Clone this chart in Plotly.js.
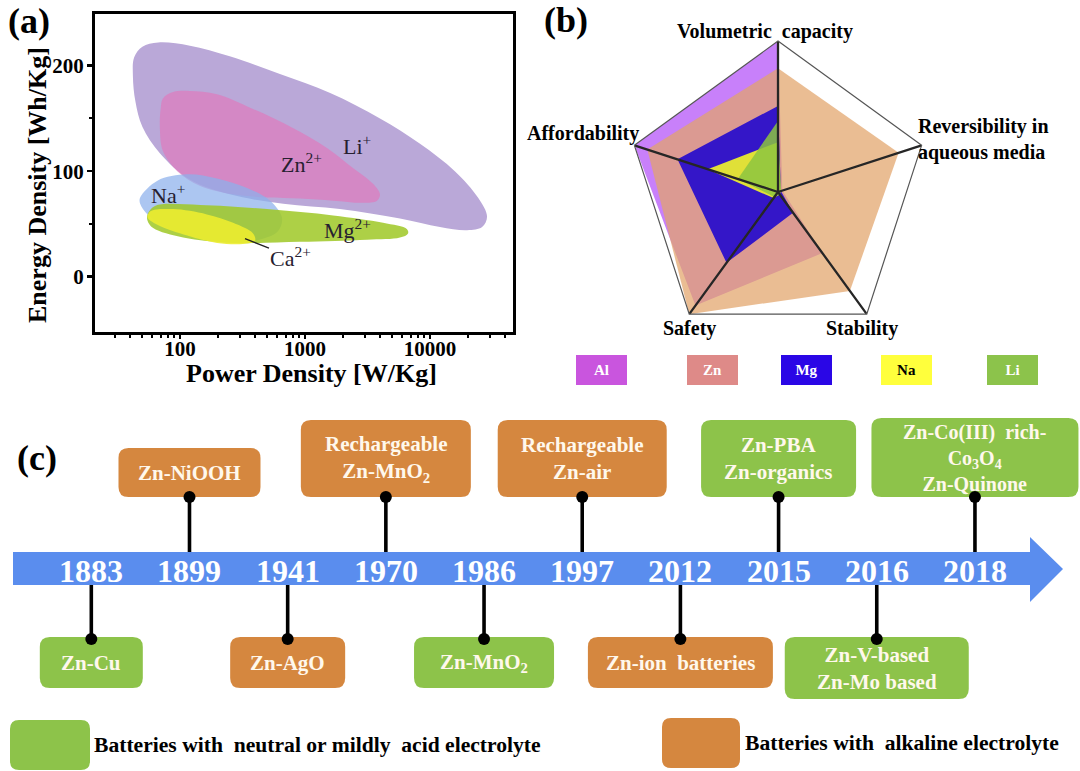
<!DOCTYPE html>
<html>
<head>
<meta charset="utf-8">
<script src="https://cdn.plot.ly/plotly-3.0.1.min.js"></script>
<style>html,body{margin:0;padding:0;background:#fff}#chart{width:1080px;height:771px}</style>
</head>
<body>
<div id="chart"></div>
<script>
// ---------------- DATA ----------------
// (a) Ragone-type regions: power density [W/Kg] vs energy density [Wh/Kg] (outline points)
const liPower  = [43, 50, 67, 120, 250, 630, 1590, 3980, 8320, 15800, 24200, 28600, 26100, 19800, 12000, 5750, 1900, 670, 250, 120, 69, 50, 44, 42];
const liEnergy = [208, 218, 222, 219, 209, 192, 174, 150, 126, 100, 75, 57, 47, 44, 47, 55, 64, 69, 78, 92, 117, 142, 166, 190];
const znPower  = [73, 88, 120, 198, 384, 800, 1500, 2420, 3500, 3980, 3770, 2910, 1680, 910, 500, 266, 145, 95, 73, 69, 70];
const znEnergy = [169, 175, 176, 173, 159, 141, 122, 103, 88, 78, 72, 70, 72, 74, 75, 78, 86, 100, 119, 141, 159];
const naPower  = [48, 66, 114, 198, 344, 525, 655, 608, 461, 266, 145, 79, 55, 48];
const naEnergy = [75, 91, 97, 93, 84, 72, 56, 43, 36, 32, 36, 46, 59, 69];
const mgPower  = [55, 63, 145, 497, 1680, 4210, 6550, 6670, 5750, 3130, 912, 266, 106, 61, 55];
const mgEnergy = [59, 67, 68, 64, 58, 51, 45, 41, 37, 35, 33, 32, 37, 46, 53];
const caPower  = [58, 88, 164, 266, 384, 398, 319, 198, 114, 69, 55];
const caEnergy = [62, 64, 59, 51, 41, 34, 31, 32, 39, 48, 56];
const ionNames = ['Li<sup>+</sup>', 'Zn<sup>2+</sup>', 'Na<sup>+</sup>', 'Mg<sup>2+</sup>', 'Ca<sup>2+</sup>'];
const powerTicks = [100, 1000, 10000];
const energyTicks = [0, 100, 200];

// (b) radar scores (0-10)
const radarAxes = ['Volumetric capacity', 'Reversibility in aqueous media', 'Stability', 'Safety', 'Affordability'];
const radarSeries = ['Al', 'Zn', 'Mg', 'Na', 'Li'];
const alScores = [10, 0.3, 5.0, 9.3, 10];
const znScores = [8.2, 8.4, 8.1, 10, 9.1];
const mgScores = [5.7, 0.2, 1.7, 5.8, 7.0];
const naScores = [3.3, 0.2, 0.2, 0.5, 4.9];
const liScores = [4.7, 0.2, 0.2, 0.4, 2.8];
const radarMax = 10;

// (c) timeline
const years = ['1883', '1899', '1941', '1970', '1986', '1997', '2012', '2015', '2016', '2018'];
const milestones = ['Zn-Cu', 'Zn-NiOOH', 'Zn-AgO', 'Rechargeable<br>Zn-MnO<sub>2</sub>', 'Zn-MnO<sub>2</sub>',
  'Rechargeable<br>Zn-air', 'Zn-ion&nbsp; batteries', 'Zn-PBA<br>Zn-organics', 'Zn-V-based<br>Zn-Mo based',
  'Zn-Co(III)&nbsp; rich-<br>Co<sub>3</sub>O<sub>4</sub><br>Zn-Quinone'];
const placement = ['below', 'above', 'below', 'above', 'below', 'above', 'below', 'above', 'below', 'above'];
const electrolyte = ['neutral', 'alkaline', 'alkaline', 'alkaline', 'neutral', 'alkaline', 'alkaline', 'neutral', 'neutral', 'neutral'];
const electrolyteNames = {
  neutral: 'Batteries with&nbsp; neutral or mildly&nbsp; acid electrolyte',
  alkaline: 'Batteries with&nbsp; alkaline electrolyte'
};

// ---------------- STYLE / LAYOUT ----------------
const W = 1080, H = 771;
const PX = p => p / W, PY = p => 1 - p / H;
const SERIF = "'Liberation Serif', 'Times New Roman', serif";
const bold = (size, color) => ({family: SERIF, size: size, color: color || '#000', weight: 700});

const blobColors = ['rgb(186,168,216)', 'rgba(228,116,186,0.62)', 'rgba(140,176,236,0.72)', 'rgba(160,200,40,0.86)', 'rgba(236,236,48,0.9)'];
const labelAnchor = [[2606, 125], [946, 108], [80, 78], [2168, 45], [331, 36]];
const radarColors = ['rgb(200,128,250)', 'rgba(226,164,106,0.72)', 'rgb(52,22,200)', 'rgb(224,224,56)', 'rgba(140,196,64,0.85)'];
const radarLegendColors = ['#C955DE', '#DE8A88', '#2A06E6', '#FFFF3C', '#8CC34B'];
const radarLegendText = ['#fff', '#fff', '#fff', '#000', '#fff'];
const radarLegendX = [601, 712, 806, 906, 1012];
const elecColors = {neutral: '#8DC34A', alkaline: '#D5873F'};
const boxW = [103, 142, 115, 170, 140, 169, 185, 155, 184, 207];
const boxH = [51, 49, 51, 77, 51, 77, 51, 77, 62, 79];
const stemLen = 71;
// x3 category axis range: index i -> 91 + 98.2*i px
const X3R = [-0.93, 10.07];
const XU = (X3R[1] - X3R[0]) / W;   // x3 units per px
const Y3R = [-152, 158];            // 1 unit = 1 px, 0 at arrow centre

function closeLoop(a) { return a.concat([a[0]]); }

const data = [];
// ---- (a) regions
[[liPower, liEnergy], [znPower, znEnergy], [naPower, naEnergy], [mgPower, mgEnergy], [caPower, caEnergy]].forEach((p, i) => {
  data.push({type: 'scatter', x: closeLoop(p[0]), y: closeLoop(p[1]), mode: 'lines', fill: 'toself',
    fillcolor: blobColors[i], line: {width: 0, shape: 'spline', smoothing: 1, color: blobColors[i]},
    xaxis: 'x', yaxis: 'y', hoverinfo: 'skip', name: ionNames[i]});
});

// ---- (b) radar
[alScores, znScores, mgScores, naScores, liScores].forEach((s, i) => {
  data.push({type: 'scatterpolar', subplot: 'polar', r: closeLoop(s), theta: closeLoop(radarAxes),
    mode: 'lines', fill: 'toself', fillcolor: radarColors[i], line: {width: 0, color: radarColors[i]},
    name: radarSeries[i], hoverinfo: 'skip'});
});
const spokeR = [], spokeT = [];
radarAxes.forEach(a => { spokeR.push(radarMax, 0); spokeT.push(a, a); });
data.push({type: 'scatterpolar', subplot: 'polar', r: spokeR, theta: spokeT, mode: 'lines',
  line: {color: '#262626', width: 2.3}, hoverinfo: 'skip'});

// ---- (c) timeline stems + dots
const stemX = [], stemY = [];
years.forEach((y, i) => {
  const s = placement[i] === 'above' ? 1 : -1;
  stemX.push(y, y, null); stemY.push(0, s * stemLen, null);
});
data.push({type: 'scatter', x: stemX, y: stemY, mode: 'lines', line: {color: '#000', width: 3.6},
  xaxis: 'x3', yaxis: 'y3', hoverinfo: 'skip'});
data.push({type: 'scatter', x: years, y: placement.map(p => (p === 'above' ? 1 : -1) * stemLen), mode: 'markers',
  marker: {color: '#000', size: 12}, xaxis: 'x3', yaxis: 'y3', hoverinfo: 'skip'});

// ---------------- SHAPES ----------------
const shapes = [];
function rr(x0, x1, y0, y1, rx, ry) {
  return `M${x0 + rx},${y0} L${x1 - rx},${y0} Q${x1},${y0} ${x1},${y0 + ry} L${x1},${y1 - ry} Q${x1},${y1} ${x1 - rx},${y1} ` +
         `L${x0 + rx},${y1} Q${x0},${y1} ${x0},${y1 - ry} L${x0},${y0 + ry} Q${x0},${y0} ${x0 + rx},${y0} Z`;
}
years.forEach((y, i) => {
  const hw = boxW[i] / 2 * XU;
  let y0, y1;
  if (placement[i] === 'above') { y0 = stemLen; y1 = stemLen + boxH[i]; }
  else { y1 = -stemLen + 2; y0 = y1 - boxH[i]; }
  shapes.push({type: 'path', xref: 'x3', yref: 'y3', layer: 'below', path: rr(i - hw, i + hw, y0, y1, 10 * XU, 10),
    fillcolor: elecColors[electrolyte[i]], line: {width: 0}});
});
// timeline arrow
const ax = [13, 1030, 1063], ay = [552, 585, 537, 602, 569];
shapes.push({type: 'path', xref: 'paper', yref: 'paper', layer: 'above', fillcolor: '#5A8DEE', line: {width: 0},
  path: `M${PX(ax[0])},${PY(ay[0])} L${PX(ax[1])},${PY(ay[0])} L${PX(ax[1])},${PY(ay[2])} L${PX(ax[2])},${PY(ay[4])} ` +
        `L${PX(ax[1])},${PY(ay[3])} L${PX(ax[1])},${PY(ay[1])} L${PX(ax[0])},${PY(ay[1])} Z`});
// bottom legend squares
function paperRR(x0, x1, y0, y1, r) {
  return rr(PX(x0), PX(x1), PY(y1), PY(y0), r / W, r / H);
}
shapes.push({type: 'path', xref: 'paper', yref: 'paper', path: paperRR(10, 90, 720, 770, 9), fillcolor: elecColors.neutral, line: {width: 0}});
shapes.push({type: 'path', xref: 'paper', yref: 'paper', path: paperRR(662, 740, 718, 768, 9), fillcolor: elecColors.alkaline, line: {width: 0}});

// ---------------- ANNOTATIONS ----------------
const ann = [];
function paperText(text, x, y, font, extra) {
  ann.push(Object.assign({text: text, xref: 'paper', yref: 'paper', x: PX(x), y: PY(y), xanchor: 'center', yanchor: 'middle',
    showarrow: false, font: font}, extra || {}));
}
paperText('<b>(a)</b>', 29, 21, bold(36));
paperText('<b>(b)</b>', 566, 20, bold(36));
paperText('<b>(c)</b>', 37, 458, bold(36));
// axis titles of (a)
paperText('<b>Power Density [W/Kg]</b>', 312, 373, bold(26));
paperText('<b>Energy Density [Wh/Kg]</b>', 37, 185, bold(26), {textangle: -90});

// (a) ion labels
ionNames.forEach((t, i) => {
  const a = {text: t, xref: 'x', yref: 'y', x: Math.log10(labelAnchor[i][0]), y: labelAnchor[i][1],
    xanchor: 'center', yanchor: 'middle', showarrow: false, font: {family: SERIF, size: 22, color: '#262030'}};
  if (i === 4) { Object.assign(a, {showarrow: true, arrowhead: 0, arrowwidth: 1.3, arrowcolor: '#222', ax: 46, ay: 18}); }
  ann.push(a);
});

// (b) axis labels
paperText('<b>Volumetric&nbsp; capacity</b>', 765, 32, bold(20));
paperText('<b>Affordability</b>', 641, 133, bold(20), {xanchor: 'right'});
paperText('<b>Reversibility in<br>aqueous media</b>', 916, 139, bold(20), {xanchor: 'left', align: 'left'});
paperText('<b>Safety</b>', 689, 328, bold(20));
paperText('<b>Stability</b>', 862, 328, bold(20));
// (b) legend
radarSeries.forEach((s, i) => {
  paperText('<b>' + s + '</b>', radarLegendX[i], 370, bold(15, radarLegendText[i]),
    {width: 51, height: 30, bgcolor: radarLegendColors[i], borderpad: 0, borderwidth: 0});
});

// (c) years and milestone texts (category index positions on x3)
years.forEach((y, i) => {
  ann.push({text: '<b>' + y + '</b>', xref: 'x3', yref: 'y3', x: i, y: -3, xanchor: 'center', yanchor: 'middle',
    showarrow: false, font: bold(32, '#fff')});
  const cy = placement[i] === 'above' ? stemLen + boxH[i] / 2 : -stemLen + 2 - boxH[i] / 2;
  ann.push({text: '<b>' + milestones[i] + '</b>', xref: 'x3', yref: 'y3', x: i, y: cy, xanchor: 'center', yanchor: 'middle',
    showarrow: false, font: bold(i === 9 ? 20 : 21, '#FFF8EC')});
});
// bottom legend text
paperText('<b>' + electrolyteNames.neutral + '</b>', 92, 745, bold(21.6), {xanchor: 'left'});
paperText('<b>' + electrolyteNames.alkaline + '</b>', 743, 743, bold(21.6), {xanchor: 'left'});

// minor ticks for log axis
const minorPower = [];
[10, 100, 1000, 10000].forEach(d => { for (let k = 2; k <= 9; k++) { const v = k * d; if (v >= 21 && v <= 46000) minorPower.push(v); } });

const layout = {
  width: W, height: H, margin: {l: 0, r: 0, t: 0, b: 0}, paper_bgcolor: '#fff', plot_bgcolor: 'rgba(0,0,0,0)',
  showlegend: false, hovermode: false,
  xaxis: {type: 'log', domain: [PX(95), PX(513)], range: [1.32, 4.664], anchor: 'y',
    showline: true, linewidth: 3, linecolor: '#000', mirror: true, showgrid: false, zeroline: false,
    ticks: 'outside', ticklen: 4, tickwidth: 2.5, tickcolor: '#000', ticklabelstandoff: -8,
    tickmode: 'array', tickvals: powerTicks, ticktext: powerTicks.map(String), tickfont: bold(21),
    minor: {tickmode: 'array', tickvals: minorPower, ticks: 'outside', ticklen: 3, tickwidth: 2, tickcolor: '#000', showgrid: false},
    title: {text: ''}},
  yaxis: {domain: [PY(332), PY(14)], range: [-52.5, 249], anchor: 'x',
    showline: true, linewidth: 3, linecolor: '#000', mirror: true, showgrid: false, zeroline: false,
    ticks: 'outside', ticklen: 5, tickwidth: 2.5, tickcolor: '#000', ticklabelstandoff: -1,
    tickmode: 'array', tickvals: energyTicks, ticktext: energyTicks.map(String), tickfont: bold(21),
    minor: {tickmode: 'array', tickvals: [50, 150], ticks: 'outside', ticklen: 3, tickwidth: 2, tickcolor: '#000', showgrid: false},
    title: {text: ''}},
  xaxis3: {type: 'category', domain: [0, 1], range: X3R, anchor: 'y3', visible: false, fixedrange: true,
    categoryorder: 'array', categoryarray: years},
  yaxis3: {domain: [PY(720), PY(410)], range: Y3R, anchor: 'x3', visible: false, fixedrange: true},
  polar: {domain: {x: [PX(627), PX(929)], y: [PY(343), PY(41)]}, gridshape: 'linear', bgcolor: 'rgba(0,0,0,0)',
    radialaxis: {range: [0, radarMax], visible: false, showgrid: false},
    angularaxis: {type: 'category', categoryorder: 'array', categoryarray: radarAxes, rotation: 90, direction: 'clockwise',
      showgrid: false, showline: true, linecolor: '#555', linewidth: 1.2, ticks: '', showticklabels: false}},
  shapes: shapes,
  annotations: ann
};

Plotly.newPlot('chart', data, layout, {staticPlot: true, displayModeBar: false});
</script>
</body>
</html>
